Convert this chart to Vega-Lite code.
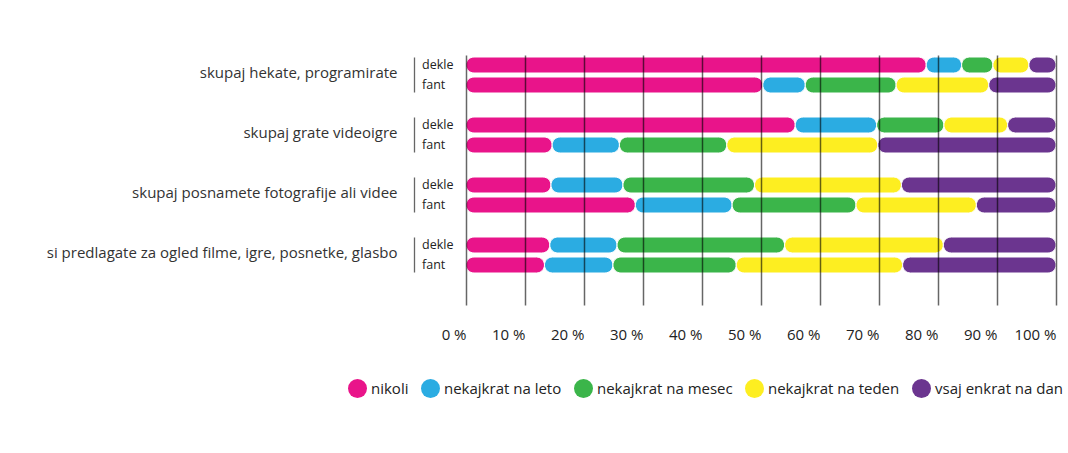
{
  "$schema": "https://vega.github.io/schema/vega-lite/v6.json",
  "width": 590,
  "height": 250,
  "autosize": "none",
  "padding": {"left": 466, "top": 55, "right": 12, "bottom": 148},
  "background": "white",
  "config": {"view": {"stroke": null}, "font": "Open Sans"},
  "data": {"values": [
    {"slot": "skupaj hekate, programirate|dekle", "cat": "nikoli", "o": 1, "v": 78.0},
    {"slot": "skupaj hekate, programirate|dekle", "cat": "nekajkrat na leto", "o": 2, "v": 6.0},
    {"slot": "skupaj hekate, programirate|dekle", "cat": "nekajkrat na mesec", "o": 3, "v": 5.3},
    {"slot": "skupaj hekate, programirate|dekle", "cat": "nekajkrat na teden", "o": 4, "v": 6.1},
    {"slot": "skupaj hekate, programirate|dekle", "cat": "vsaj enkrat na dan", "o": 5, "v": 4.6},
    {"slot": "skupaj hekate, programirate|fant", "cat": "nikoli", "o": 1, "v": 50.3},
    {"slot": "skupaj hekate, programirate|fant", "cat": "nekajkrat na leto", "o": 2, "v": 7.2},
    {"slot": "skupaj hekate, programirate|fant", "cat": "nekajkrat na mesec", "o": 3, "v": 15.4},
    {"slot": "skupaj hekate, programirate|fant", "cat": "nekajkrat na teden", "o": 4, "v": 15.7},
    {"slot": "skupaj hekate, programirate|fant", "cat": "vsaj enkrat na dan", "o": 5, "v": 11.4},
    {"slot": "skupaj grate videoigre|dekle", "cat": "nikoli", "o": 1, "v": 55.8},
    {"slot": "skupaj grate videoigre|dekle", "cat": "nekajkrat na leto", "o": 2, "v": 13.8},
    {"slot": "skupaj grate videoigre|dekle", "cat": "nekajkrat na mesec", "o": 3, "v": 11.4},
    {"slot": "skupaj grate videoigre|dekle", "cat": "nekajkrat na teden", "o": 4, "v": 10.8},
    {"slot": "skupaj grate videoigre|dekle", "cat": "vsaj enkrat na dan", "o": 5, "v": 8.2},
    {"slot": "skupaj grate videoigre|fant", "cat": "nikoli", "o": 1, "v": 14.6},
    {"slot": "skupaj grate videoigre|fant", "cat": "nekajkrat na leto", "o": 2, "v": 11.4},
    {"slot": "skupaj grate videoigre|fant", "cat": "nekajkrat na mesec", "o": 3, "v": 18.2},
    {"slot": "skupaj grate videoigre|fant", "cat": "nekajkrat na teden", "o": 4, "v": 25.6},
    {"slot": "skupaj grate videoigre|fant", "cat": "vsaj enkrat na dan", "o": 5, "v": 30.2},
    {"slot": "skupaj posnamete fotografije ali videe|dekle", "cat": "nikoli", "o": 1, "v": 14.4},
    {"slot": "skupaj posnamete fotografije ali videe|dekle", "cat": "nekajkrat na leto", "o": 2, "v": 12.2},
    {"slot": "skupaj posnamete fotografije ali videe|dekle", "cat": "nekajkrat na mesec", "o": 3, "v": 22.3},
    {"slot": "skupaj posnamete fotografije ali videe|dekle", "cat": "nekajkrat na teden", "o": 4, "v": 24.9},
    {"slot": "skupaj posnamete fotografije ali videe|dekle", "cat": "vsaj enkrat na dan", "o": 5, "v": 26.2},
    {"slot": "skupaj posnamete fotografije ali videe|fant", "cat": "nikoli", "o": 1, "v": 28.7},
    {"slot": "skupaj posnamete fotografije ali videe|fant", "cat": "nekajkrat na leto", "o": 2, "v": 16.4},
    {"slot": "skupaj posnamete fotografije ali videe|fant", "cat": "nekajkrat na mesec", "o": 3, "v": 21.0},
    {"slot": "skupaj posnamete fotografije ali videe|fant", "cat": "nekajkrat na teden", "o": 4, "v": 20.4},
    {"slot": "skupaj posnamete fotografije ali videe|fant", "cat": "vsaj enkrat na dan", "o": 5, "v": 13.5},
    {"slot": "si predlagate za ogled filme, igre, posnetke, glasbo|dekle", "cat": "nikoli", "o": 1, "v": 14.2},
    {"slot": "si predlagate za ogled filme, igre, posnetke, glasbo|dekle", "cat": "nekajkrat na leto", "o": 2, "v": 11.4},
    {"slot": "si predlagate za ogled filme, igre, posnetke, glasbo|dekle", "cat": "nekajkrat na mesec", "o": 3, "v": 28.4},
    {"slot": "si predlagate za ogled filme, igre, posnetke, glasbo|dekle", "cat": "nekajkrat na teden", "o": 4, "v": 26.9},
    {"slot": "si predlagate za ogled filme, igre, posnetke, glasbo|dekle", "cat": "vsaj enkrat na dan", "o": 5, "v": 19.1},
    {"slot": "si predlagate za ogled filme, igre, posnetke, glasbo|fant", "cat": "nikoli", "o": 1, "v": 13.3},
    {"slot": "si predlagate za ogled filme, igre, posnetke, glasbo|fant", "cat": "nekajkrat na leto", "o": 2, "v": 11.6},
    {"slot": "si predlagate za ogled filme, igre, posnetke, glasbo|fant", "cat": "nekajkrat na mesec", "o": 3, "v": 20.9},
    {"slot": "si predlagate za ogled filme, igre, posnetke, glasbo|fant", "cat": "nekajkrat na teden", "o": 4, "v": 28.2},
    {"slot": "si predlagate za ogled filme, igre, posnetke, glasbo|fant", "cat": "vsaj enkrat na dan", "o": 5, "v": 26.0}
  ]},
  "transform": [
    {"stack": "v", "groupby": ["slot"], "sort": [{"field": "o", "order": "ascending"}], "as": ["v0", "v1"]}
  ],
  "encoding": {
    "x": {
      "field": "v0", "type": "quantitative",
      "scale": {"domain": [0, 100], "nice": false},
      "axis": {
        "title": null, "values": [0, 10, 20, 30, 40, 50, 60, 70, 80, 90, 100],
        "labelExpr": "datum.value + ' %'", "labelAlign": "right", "labelBaseline": "alphabetic",
        "labelPadding": 34, "labelFontSize": 15, "labelFont": "Open Sans", "labelColor": "#222",
        "ticks": false, "tickSize": 0, "domain": false,
        "grid": true, "gridColor": "#000", "gridOpacity": 0.6, "gridWidth": 1.5, "zindex": 1
      }
    },
    "x2": {"field": "v1"}
  },
  "layer": [
    {
      "mark": {"type": "bar", "size": 16, "cornerRadius": 8, "stroke": "white", "strokeWidth": 1},
      "encoding": {
        "y": {
          "field": "slot", "type": "nominal",
          "scale": {
            "domain": [
              "skupaj hekate, programirate|dekle", "skupaj hekate, programirate|fant", "gap1",
              "skupaj grate videoigre|dekle", "skupaj grate videoigre|fant", "gap2",
              "skupaj posnamete fotografije ali videe|dekle", "skupaj posnamete fotografije ali videe|fant", "gap3",
              "si predlagate za ogled filme, igre, posnetke, glasbo|dekle", "si predlagate za ogled filme, igre, posnetke, glasbo|fant"
            ],
            "paddingInner": 0, "paddingOuter": 0.75, "align": 0
          },
          "axis": {
            "orient": "left", "title": null, "offset": 52,
            "ticks": false, "tickSize": 0,
            "domain": true, "domainColor": "#666", "domainWidth": 1.3,
            "domainDash": [0, 2, 35, 25, 35, 25, 35, 25, 35, 200],
            "labelExpr": "indexof(datum.value, '|') > 0 ? split(datum.value, '|')[1] : ''",
            "labelAlign": "left", "labelBaseline": "middle", "labelPadding": -7.5,
            "labelFontSize": 12.5, "labelFont": "Open Sans", "labelColor": "#222", "grid": false
          }
        },
        "color": {
          "field": "cat", "type": "nominal",
          "scale": {
            "domain": ["nikoli", "nekajkrat na leto", "nekajkrat na mesec", "nekajkrat na teden", "vsaj enkrat na dan"],
            "range": ["#E9148A", "#2BACE2", "#3BB54A", "#FDEE21", "#6B358F"]
          },
          "legend": {
            "orient": "none", "legendX": -118, "legendY": 324, "direction": "horizontal",
            "title": null, "symbolType": "circle", "symbolSize": 361, "symbolStrokeWidth": 0,
            "symbolOpacity": 1, "labelFontSize": 15, "labelFont": "Open Sans", "labelColor": "#222",
            "columnPadding": 12, "labelOffset": 4, "padding": 0
          }
        }
      }
    },
    {
      "mark": {"type": "bar", "size": 16, "opacity": 0},
      "encoding": {
        "y": {
          "field": "slot", "type": "nominal",
          "axis": {
            "orient": "left", "title": null, "offset": 0,
            "ticks": false, "tickSize": 0, "domain": false, "grid": false,
            "labelExpr": "indexof(datum.value, '|dekle') > 0 ? split(datum.value, '|')[0] : ''",
            "labelAlign": "right", "labelBaseline": "middle", "labelPadding": 69, "labelOffset": 8,
            "labelLimit": 600, "labelFontSize": 15, "labelFont": "Open Sans", "labelColor": "#333"
          }
        }
      }
    }
  ],
  "resolve": {"axis": {"y": "independent"}}
}
